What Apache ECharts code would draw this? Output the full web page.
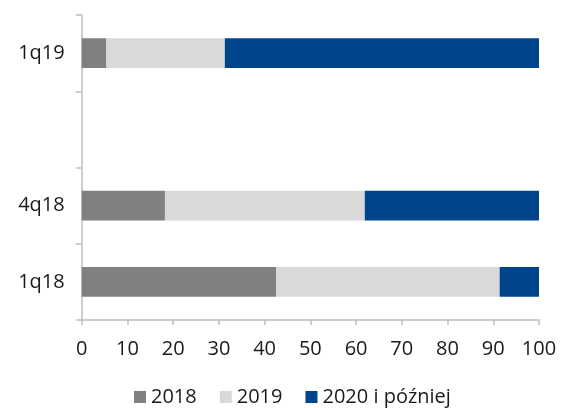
<!DOCTYPE html>
<html><head><meta charset="utf-8">
<script src="https://cdn.jsdelivr.net/npm/echarts@6/dist/echarts.min.js"></script>
<style>html,body{margin:0;padding:0;background:#fff}#c{width:565px;height:408px}</style>
</head><body><div id="c"></div>
<script>
const categories = ['1q18', '4q18', '', '1q19'];
const s2018 = [42.5, 18.2, null, 5.4];
const s2019 = [48.9, 43.7, null, 25.9];
const s2020 = [8.6, 38.1, null, 68.7];
const seriesNames = ['2018', '2019', '2020 i później'];
const xTicks = [0, 10, 20, 30, 40, 50, 60, 70, 80, 90, 100];

const FONT = 'Open Sans';
const colors = ['#808080', '#d9d9d9', '#00458b'];
const chart = echarts.init(document.getElementById('c'), null, {renderer: 'canvas'});
const mk = (name, data, i) => ({
  name, type: 'bar', stack: 'total', data, barWidth: '39%',
  itemStyle: {color: colors[i]}
});
chart.setOption({
  animation: false,
  textStyle: {fontFamily: FONT},
  grid: {left: 81.7, right: 26, top: 15, bottom: 88, containLabel: false},
  legend: {
    top: 382, left: 129, itemWidth: 12, itemHeight: 12, itemGap: 23,
    icon: 'rect',
    textStyle: {fontFamily: FONT, fontSize: 20, color: '#1a1a1a'},
    data: seriesNames
  },
  xAxis: {
    type: 'value', min: xTicks[0], max: xTicks[xTicks.length - 1], interval: 10,
    axisLine: {show: true, lineStyle: {color: '#bfbfbf', width: 1.5}},
    axisTick: {show: true, length: 5, lineStyle: {color: '#bfbfbf', width: 1.5}},
    splitLine: {show: false},
    axisLabel: {fontFamily: FONT, fontSize: 20, color: '#1a1a1a', margin: 19}
  },
  yAxis: {
    type: 'category', data: categories,
    axisLine: {show: true, lineStyle: {color: '#bfbfbf', width: 1.5}},
    axisTick: {show: true, length: 6, lineStyle: {color: '#bfbfbf', width: 1.5}},
    axisLabel: {fontFamily: FONT, fontSize: 20, color: '#1a1a1a', margin: 17}
  },
  series: [mk(seriesNames[0], s2018, 0), mk(seriesNames[1], s2019, 1), mk(seriesNames[2], s2020, 2)]
});
</script></body></html>
